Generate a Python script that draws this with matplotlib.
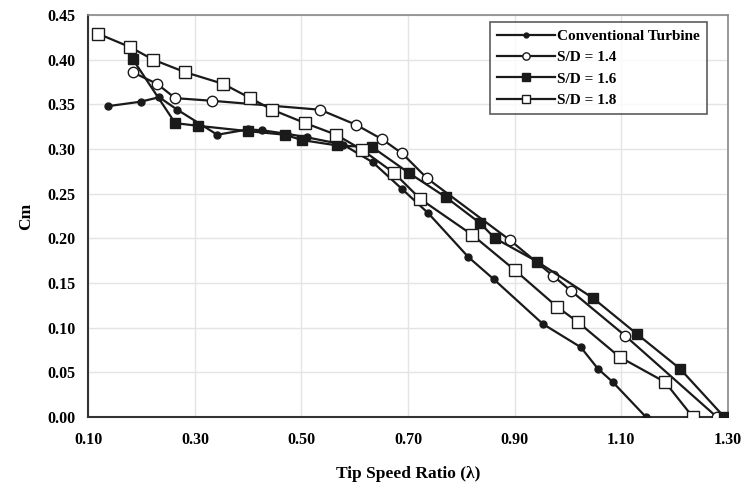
import matplotlib.pyplot as plt

plt.rcParams['font.family'] = ['Liberation Serif', 'DejaVu Serif']
plt.rcParams['font.weight'] = 'bold'

# Conventional turbine
conv_x = [0.137, 0.198, 0.233, 0.267, 0.342, 0.400, 0.426, 0.473, 0.511, 0.578,
          0.634, 0.689, 0.738, 0.813, 0.861, 0.953, 1.024, 1.056, 1.084, 1.146]
conv_y = [0.348, 0.353, 0.358, 0.344, 0.316, 0.322, 0.321, 0.317, 0.313, 0.305,
          0.285, 0.255, 0.228, 0.179, 0.154, 0.104, 0.078, 0.054, 0.039, 0.000]

# S/D = 1.4
sd14_x = [0.183, 0.229, 0.263, 0.333, 0.535, 0.603, 0.651, 0.689, 0.736, 0.891,
          0.972, 1.006, 1.107, 1.279]
sd14_y = [0.386, 0.373, 0.357, 0.354, 0.344, 0.327, 0.311, 0.295, 0.267, 0.198,
          0.158, 0.141, 0.091, 0.000]

# S/D = 1.6
sd16_x = [0.183, 0.263, 0.306, 0.400, 0.469, 0.501, 0.567, 0.633, 0.702, 0.771,
          0.835, 0.863, 0.942, 1.047, 1.129, 1.210, 1.293]
sd16_y = [0.401, 0.329, 0.326, 0.320, 0.316, 0.310, 0.304, 0.302, 0.273, 0.246,
          0.217, 0.200, 0.174, 0.133, 0.093, 0.054, 0.000]

# S/D = 1.8
sd18_x = [0.119, 0.179, 0.222, 0.282, 0.353, 0.404, 0.445, 0.507, 0.565, 0.614,
          0.674, 0.723, 0.820, 0.901, 0.980, 1.019, 1.097, 1.182, 1.234]
sd18_y = [0.429, 0.414, 0.400, 0.386, 0.373, 0.357, 0.344, 0.329, 0.316, 0.299,
          0.273, 0.244, 0.204, 0.164, 0.123, 0.106, 0.067, 0.039, 0.000]

x_ticks = [0.10, 0.30, 0.50, 0.70, 0.90, 1.10, 1.30]
y_ticks = [0.00, 0.05, 0.10, 0.15, 0.20, 0.25, 0.30, 0.35, 0.40, 0.45]

fig = plt.figure(figsize=(7.42, 4.87), dpi=100)
ax = fig.add_axes([0.119, 0.144, 0.862, 0.825])

lc = '#1a1a1a'
ax.plot(conv_x, conv_y, color=lc, lw=1.6, marker='o', ms=5,
        mfc=lc, mec=lc, label='Conventional Turbine', zorder=3)
ax.plot(sd14_x, sd14_y, color=lc, lw=1.6, marker='o', ms=7.5,
        mfc='white', mec=lc, mew=1.0, label='S/D = 1.4', zorder=3)
ax.plot(sd16_x, sd16_y, color=lc, lw=1.6, marker='s', ms=7.5,
        mfc=lc, mec=lc, label='S/D = 1.6', zorder=3)
ax.plot(sd18_x, sd18_y, color=lc, lw=1.6, marker='s', ms=8,
        mfc='white', mec=lc, mew=1.0, label='S/D = 1.8', zorder=3)

ax.set_xlim(0.10, 1.30)
ax.set_ylim(0.0, 0.45)
ax.set_xticks(x_ticks)
ax.set_yticks(y_ticks)
ax.set_xticklabels(['%.2f' % v for v in x_ticks])
ax.set_yticklabels(['%.2f' % v for v in y_ticks])
ax.tick_params(length=0, labelsize=11.5)
ax.tick_params(axis='x', pad=11)
ax.tick_params(axis='y', pad=9)
ax.grid(True, color='#e4e4e4', lw=1.0, zorder=0)

ax.spines['left'].set_color('#333333')
ax.spines['bottom'].set_color('#333333')
ax.spines['left'].set_linewidth(1.5)
ax.spines['bottom'].set_linewidth(1.5)
ax.spines['top'].set_color('#888888')
ax.spines['right'].set_color('#888888')
ax.spines['top'].set_linewidth(1.2)
ax.spines['right'].set_linewidth(1.2)

ax.set_xlabel('Tip Speed Ratio (λ)', fontsize=12.5, fontweight='bold', labelpad=13)
ax.set_ylabel('Cm', fontsize=12.5, fontweight='bold', labelpad=10)

leg = ax.legend(loc='upper right', bbox_to_anchor=(0.967, 0.982), borderaxespad=0,
                fontsize=11, frameon=True, fancybox=False, edgecolor='#333333',
                handlelength=3.8, handletextpad=0.15, borderpad=0.45,
                labelspacing=0.5, markerscale=0.7)
leg.get_frame().set_linewidth(1.2)

fig.savefig('out.png', dpi=100)
